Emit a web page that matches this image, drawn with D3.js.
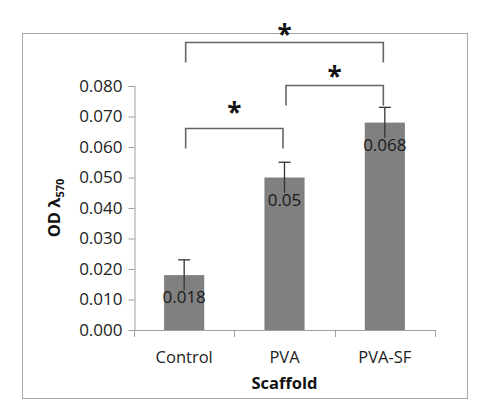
<!DOCTYPE html>
<html>
<head>
<meta charset="utf-8">
<script src="https://cdn.jsdelivr.net/npm/d3@7"></script>
<style>
  body { margin: 0; background: #fff; }
  text { font-family: "Open Sans", "DejaVu Sans", sans-serif; }
</style>
</head>
<body>
<div id="chart"></div>
<script>
var categories = ['Control', 'PVA', 'PVA-SF'];
var values = [0.018, 0.05, 0.068];
var errors = [0.005, 0.005, 0.005];
var valueLabels = ['0.018', '0.05', '0.068'];
var yTicks = [0, 0.01, 0.02, 0.03, 0.04, 0.05, 0.06, 0.07, 0.08];

// significance brackets: [from, to, bracket level, star level]
var sigFrom = ['Control', 'PVA', 'Control'];
var sigTo = ['PVA', 'PVA-SF', 'PVA-SF'];
var sigLevel = [0.0662, 0.0803, 0.0944];
var sigStar = [0.0728, 0.0846, 0.0984];

var width = 490, height = 419;
var margin = {left: 134, right: 55, top: 86, bottom: 89};

var svg = d3.select('#chart').append('svg')
    .attr('width', width)
    .attr('height', height);

// chart area border
svg.append('rect')
    .attr('x', 22.5).attr('y', 33.5)
    .attr('width', 445).attr('height', 365)
    .attr('fill', 'none')
    .attr('stroke', '#a6a6a6');

var x = d3.scaleBand()
    .domain(categories)
    .range([margin.left, width - margin.right])
    .paddingInner(0.6)
    .paddingOuter(0.3);

var y = d3.scaleLinear()
    .domain([0, 0.08])
    .range([height - margin.bottom, margin.top]);

var axisColor = '#a0a0a0';
var g = svg.append('g');

// bars
g.selectAll('rect.bar')
    .data(values)
    .enter().append('rect')
    .attr('class', 'bar')
    .attr('x', function(d, i){ return x(categories[i]); })
    .attr('width', x.bandwidth())
    .attr('y', function(d){ return y(d); })
    .attr('height', function(d){ return y(0) - y(d); })
    .attr('fill', '#808080');

// y axis
var yAxis = g.append('g')
    .attr('transform', 'translate(' + (margin.left + 0.5) + ',0)')
    .call(d3.axisLeft(y).tickValues(yTicks).tickFormat(d3.format('.3f')).tickSize(6).tickPadding(6));
yAxis.select('.domain').attr('stroke', axisColor);
yAxis.selectAll('.tick line').attr('stroke', axisColor);
yAxis.selectAll('.tick text')
    .attr('fill', '#222')
    .style('font-size', '17px');

// x axis with boundary ticks
var xAxisG = g.append('g');
xAxisG.append('line')
    .attr('x1', margin.left).attr('x2', width - margin.right)
    .attr('y1', y(0) + 0.5).attr('y2', y(0) + 0.5)
    .attr('stroke', axisColor);
var bounds = categories.map(function(c){ return x(c) - x.step() * x.paddingOuter(); });
bounds.push(width - margin.right);
xAxisG.selectAll('line.tk')
    .data(bounds)
    .enter().append('line')
    .attr('class', 'tk')
    .attr('x1', function(d){ return Math.round(d) + 0.5; })
    .attr('x2', function(d){ return Math.round(d) + 0.5; })
    .attr('y1', y(0)).attr('y2', y(0) + 7)
    .attr('stroke', axisColor);
xAxisG.selectAll('text')
    .data(categories)
    .enter().append('text')
    .attr('x', function(d){ return x(d) + x.bandwidth() / 2; })
    .attr('y', y(0) + 33)
    .attr('text-anchor', 'middle')
    .attr('fill', '#222')
    .style('font-size', '16.5px')
    .text(function(d){ return d; });

// error bars
var cx = function(i){ return x(categories[i]) + x.bandwidth() / 2; };
var err = g.selectAll('g.err')
    .data(values)
    .enter().append('g')
    .attr('class', 'err')
    .attr('stroke', '#333')
    .attr('stroke-width', 1.3);
err.append('line')
    .attr('x1', function(d, i){ return cx(i); })
    .attr('x2', function(d, i){ return cx(i); })
    .attr('y1', function(d, i){ return y(d + errors[i]); })
    .attr('y2', function(d, i){ return y(d - errors[i]); });
err.append('line')
    .attr('x1', function(d, i){ return cx(i) - 6; })
    .attr('x2', function(d, i){ return cx(i) + 6; })
    .attr('y1', function(d, i){ return y(d + errors[i]); })
    .attr('y2', function(d, i){ return y(d + errors[i]); });

// value labels
g.selectAll('text.val')
    .data(values)
    .enter().append('text')
    .attr('class', 'val')
    .attr('x', function(d, i){ return cx(i); })
    .attr('y', function(d){ return y(d) + 28; })
    .attr('text-anchor', 'middle')
    .attr('fill', '#1a1a1a')
    .style('font-size', '17px')
    .text(function(d, i){ return valueLabels[i]; });

// significance brackets
var drop = 20;
sigLevel.forEach(function(lv, i){
    var x1 = x(sigFrom[i]) + x.bandwidth() / 2 + 1.5;
    var x2 = x(sigTo[i]) + x.bandwidth() / 2 - 1.5;
    var yy = Math.round(y(lv)) + 0.5;
    g.append('path')
        .attr('d', 'M' + x1 + ',' + (yy + drop) + 'V' + yy + 'H' + x2 + 'V' + (yy + drop))
        .attr('fill', 'none')
        .attr('stroke', '#666')
        .attr('stroke-width', 1.6);
    g.append('text')
        .attr('x', (x1 + x2) / 2)
        .attr('y', y(sigStar[i]) + 14)
        .attr('text-anchor', 'middle')
        .attr('fill', '#111')
        .style('font-size', '26px')
        .style('font-weight', 'bold')
        .text('*');
});

// axis titles
svg.append('text')
    .attr('x', x('PVA') + x.bandwidth() / 2)
    .attr('y', 389)
    .attr('text-anchor', 'middle')
    .attr('fill', '#111')
    .style('font-size', '16.5px')
    .style('font-weight', 'bold')
    .text('Scaffold');

var yt = svg.append('text')
    .attr('transform', 'translate(60,' + ((y(0) + y(0.08)) / 2) + ') rotate(-90)')
    .attr('text-anchor', 'middle')
    .attr('fill', '#111')
    .style('font-size', '16.5px')
    .style('font-weight', 'bold');
yt.append('tspan').text('OD \u03bb');
yt.append('tspan').attr('dy', 4).style('font-size', '11px').text('570');
</script>
</body>
</html>
